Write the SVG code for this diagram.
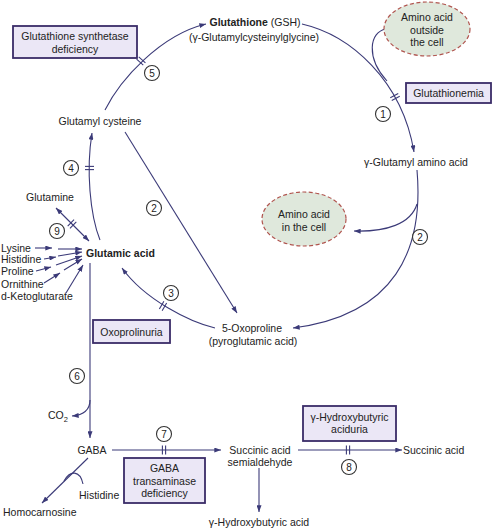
<svg xmlns="http://www.w3.org/2000/svg" xmlns:xlink="http://www.w3.org/1999/xlink" width="492" height="528" viewBox="0 0 492 528">
<style>
text{font-family:"Liberation Sans",Arial,sans-serif;font-size:10.5px;fill:#222}
.b{font-weight:bold}
.m{text-anchor:middle}
.box{fill:#ebe7f6;stroke:#3a2c68;stroke-width:1.8}
.ell{fill:#dfe8dc;stroke:#b0554f;stroke-width:1.2;stroke-dasharray:4 2.5}
.ln{fill:none;stroke:#3b3a78;stroke-width:1.1}
.ar{marker-end:url(#ah)}
.num circle{fill:#fff;stroke:#333;stroke-width:1.1}
.num text{font-size:10px;text-anchor:middle}
.tk line{stroke:#3b3a78;stroke-width:1.1}
</style>
<defs>
<marker id="ah" viewBox="0 0 8 6" refX="8" refY="3" markerWidth="7" markerHeight="5" orient="auto-start-reverse" markerUnits="userSpaceOnUse"><path d="M0,0 L8,3 L0,6 z" fill="#3b3a78"/></marker>
<g id="tick" class="tk"><line x1="-1.6" y1="-4.5" x2="-1.6" y2="4.5"/><line x1="1.6" y1="-4.5" x2="1.6" y2="4.5"/></g>
</defs>
<rect width="492" height="528" fill="#fff"/>

<g id="connectors">
<path class="ln ar" d="M105,110 C120,80 160,35 206,24"/>
<use xlink:href="#tick" transform="translate(141,61) rotate(-48)"/>
<path class="ln ar" d="M302,24 C350,35 402,80 414,152"/>
<use xlink:href="#tick" transform="translate(395,97) rotate(62)"/>
<path class="ln" d="M386,29 C369,32 366,58 387,81"/>
<path class="ln ar" d="M417,170 C424,250 395,315 293,328"/>
<path class="ln ar" d="M417,204 C411,224 386,232 354,231"/>
<path class="ln ar" d="M125,132 L237,313"/>
<path class="ln ar" d="M215,328 C190,322 145,300 122,268"/>
<use xlink:href="#tick" transform="translate(163,306) rotate(30)"/>
<path class="ln ar" d="M100,240 C90,215 86,170 92,133"/>
<use xlink:href="#tick" transform="translate(89.5,168) rotate(90)"/>
<path class="ln ar" style="marker-start:url(#ah)" d="M56,208 L89,241"/>
<use xlink:href="#tick" transform="translate(72,224) rotate(45)"/>
<path class="ln ar" d="M35,248 L52,248"/>
<path class="ln ar" d="M58,249 L82,249"/>
<path class="ln ar" d="M44,259 L56,257"/>
<path class="ln ar" d="M58,256 L82,252"/>
<path class="ln ar" d="M36,271 L51,267"/>
<path class="ln ar" d="M56,265 L82,256"/>
<path class="ln ar" d="M44,283 L60,273"/>
<path class="ln ar" d="M64,270 L82,259"/>
<path class="ln ar" d="M66,293 L83,265"/>
<path class="ln ar" d="M90,263 L90,438"/>
<path class="ln ar" d="M90,400 C90,410 83,415 72,416"/>
<path class="ln ar" d="M112,450 L221,450"/>
<use xlink:href="#tick" transform="translate(164,450)"/>
<path class="ln ar" d="M298,450 L402,450"/>
<use xlink:href="#tick" transform="translate(348,450)"/>
<path class="ln ar" d="M259,468 L259,512"/>
<path class="ln ar" d="M88,458 L42,503"/>
<path class="ln" d="M83,484 C80,470 70,470 64,481"/>
</g>

<g id="n-gss-deficiency"><rect class="box" x="13" y="26" width="124" height="32"/><text class="m" x="75" y="40">Glutathione synthetase</text><text class="m" x="75" y="53">deficiency</text></g>
<g id="n-glutathione"><text class="m" x="255" y="26"><tspan class="b">Glutathione</tspan> (GSH)</text><text class="m" x="254" y="41">(γ-Glutamylcysteinylglycine)</text></g>
<g id="n-aa-outside"><ellipse class="ell" cx="427" cy="29" rx="43" ry="27"/><text class="m" x="427" y="21">Amino acid</text><text class="m" x="427" y="34">outside</text><text class="m" x="427" y="46">the cell</text></g>
<g id="n-glutathionemia"><rect class="box" x="406" y="83" width="85" height="20"/><text class="m" x="448.5" y="97">Glutathionemia</text></g>
<g id="n-gga"><text class="m" x="416" y="166">γ-Glutamyl amino acid</text></g>
<g id="n-glutamylcys"><text class="m" x="100" y="125">Glutamyl cysteine</text></g>
<g id="n-aa-inside"><ellipse class="ell" cx="304" cy="219" rx="42" ry="27"/><text class="m" x="304" y="218">Amino acid</text><text class="m" x="304" y="231">in the cell</text></g>
<g id="n-glutamine"><text class="m" x="50" y="201">Glutamine</text></g>
<g id="n-feeders"><text x="1" y="252">Lysine</text><text x="1" y="263">Histidine</text><text x="1" y="275">Proline</text><text x="1" y="288">Ornithine</text><text x="1" y="300">d-Ketoglutarate</text></g>
<g id="n-glutamic"><text class="b" x="86" y="257">Glutamic acid</text></g>
<g id="n-oxoproline"><text class="m" x="252" y="332">5-Oxoproline</text><text class="m" x="253" y="345">(pyroglutamic acid)</text></g>
<g id="n-oxoprolinuria"><rect class="box" x="93" y="320" width="77" height="23"/><text class="m" x="131.5" y="336">Oxoprolinuria</text></g>
<g id="n-co2"><text x="48" y="419">CO<tspan font-size="7.5" dy="3">2</tspan></text></g>
<g id="n-gaba"><text class="m" x="92" y="454">GABA</text></g>
<g id="n-ssa"><text class="m" x="260" y="454">Succinic acid</text><text class="m" x="260" y="466">semialdehyde</text></g>
<g id="n-succinic"><text x="403" y="454">Succinic acid</text></g>
<g id="n-ghb"><text class="m" x="259" y="526">γ-Hydroxybutyric acid</text></g>
<g id="n-gaba-t"><rect class="box" x="124" y="458" width="81" height="45"/><text class="m" x="164.5" y="472">GABA</text><text class="m" x="164.5" y="485">transaminase</text><text class="m" x="164.5" y="497">deficiency</text></g>
<g id="n-ghb-aciduria"><rect class="box" x="303" y="406" width="93" height="35"/><text class="m" x="349.5" y="421">γ-Hydroxybutyric</text><text class="m" x="349.5" y="433">aciduria</text></g>
<g id="n-histidine2"><text x="79" y="499">Histidine</text></g>
<g id="n-homocarnosine"><text x="3" y="516">Homocarnosine</text></g>

<g id="numbers">
<g class="num"><circle cx="383" cy="114" r="7.5"/><text x="383" y="117.5">1</text></g>
<g class="num"><circle cx="154" cy="208" r="7.5"/><text x="154" y="211.5">2</text></g>
<g class="num"><circle cx="420" cy="237" r="7.5"/><text x="420" y="240.5">2</text></g>
<g class="num"><circle cx="171" cy="293" r="7.5"/><text x="171" y="296.5">3</text></g>
<g class="num"><circle cx="71" cy="168" r="7.5"/><text x="71" y="171.5">4</text></g>
<g class="num"><circle cx="152" cy="73" r="7.5"/><text x="152" y="76.5">5</text></g>
<g class="num"><circle cx="77" cy="376" r="7.5"/><text x="77" y="379.5">6</text></g>
<g class="num"><circle cx="164" cy="434" r="7.5"/><text x="164" y="437.5">7</text></g>
<g class="num"><circle cx="349" cy="467" r="7.5"/><text x="349" y="470.5">8</text></g>
<g class="num"><circle cx="57" cy="231" r="7.5"/><text x="57" y="234.5">9</text></g>
</g>
</svg>
